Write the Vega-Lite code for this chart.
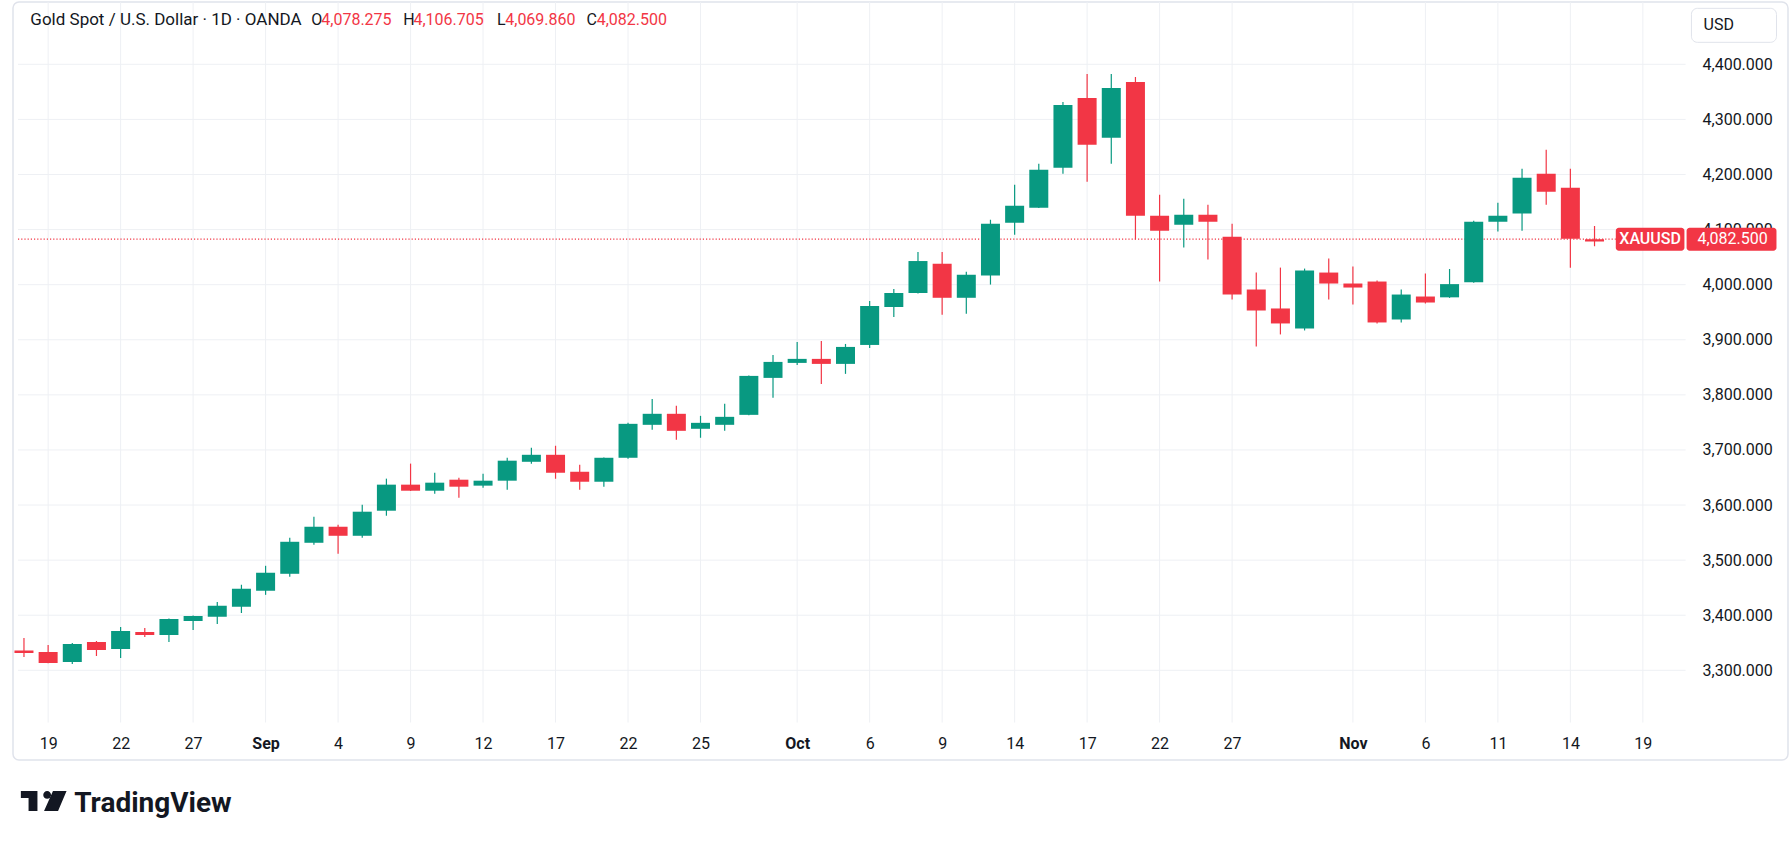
{
  "$schema": "https://vega.github.io/schema/vega-lite/v6.json",
  "width": 1775,
  "height": 758,
  "autosize": {"type": "none"},
  "padding": {"left": 13, "top": 2, "right": 3, "bottom": 83},
  "background": "white",
  "config": {
    "view": {"stroke": "#e0e3eb", "strokeWidth": 1.5, "cornerRadius": 6},
    "text": {"font": "Roboto", "color": "#131722"},
    "axis": {"labelFont": "Roboto"}
  },
  "datasets": {
    "bars": [
      {"i":0,"date":"2025-08-18","o":3335.8,"h":3358.8,"l":3324.2,"c":3331.5},
      {"i":1,"date":"2025-08-19","o":3333.3,"h":3346.0,"l":3312.8,"c":3313.3},
      {"i":2,"date":"2025-08-20","o":3315.2,"h":3349.7,"l":3311.5,"c":3347.9},
      {"i":3,"date":"2025-08-21","o":3351.5,"h":3353.3,"l":3326.0,"c":3337.0},
      {"i":4,"date":"2025-08-22","o":3338.8,"h":3378.8,"l":3322.4,"c":3371.5},
      {"i":5,"date":"2025-08-25","o":3369.7,"h":3377.0,"l":3360.6,"c":3364.2},
      {"i":6,"date":"2025-08-26","o":3364.2,"h":3394.0,"l":3351.5,"c":3393.3},
      {"i":7,"date":"2025-08-27","o":3389.7,"h":3399.5,"l":3373.3,"c":3398.8},
      {"i":8,"date":"2025-08-28","o":3397.0,"h":3424.2,"l":3384.2,"c":3417.0},
      {"i":9,"date":"2025-08-29","o":3415.2,"h":3455.2,"l":3404.2,"c":3447.9},
      {"i":10,"date":"2025-09-01","o":3444.2,"h":3489.7,"l":3437.0,"c":3477.0},
      {"i":11,"date":"2025-09-02","o":3475.2,"h":3540.6,"l":3469.7,"c":3533.3},
      {"i":12,"date":"2025-09-03","o":3531.5,"h":3578.8,"l":3527.9,"c":3560.6},
      {"i":13,"date":"2025-09-04","o":3560.6,"h":3564.2,"l":3511.5,"c":3544.2},
      {"i":14,"date":"2025-09-05","o":3544.2,"h":3600.6,"l":3540.6,"c":3587.9},
      {"i":15,"date":"2025-09-08","o":3589.7,"h":3647.9,"l":3580.6,"c":3637.0},
      {"i":16,"date":"2025-09-09","o":3637.0,"h":3675.2,"l":3625.5,"c":3626.0},
      {"i":17,"date":"2025-09-10","o":3626.0,"h":3658.8,"l":3620.6,"c":3640.6},
      {"i":18,"date":"2025-09-11","o":3646.0,"h":3649.7,"l":3613.3,"c":3633.3},
      {"i":19,"date":"2025-09-12","o":3635.2,"h":3657.0,"l":3631.5,"c":3644.2},
      {"i":20,"date":"2025-09-15","o":3644.2,"h":3686.0,"l":3627.9,"c":3680.5},
      {"i":21,"date":"2025-09-16","o":3678.5,"h":3703.9,"l":3674.9,"c":3691.2},
      {"i":22,"date":"2025-09-17","o":3691.2,"h":3707.6,"l":3647.7,"c":3658.6},
      {"i":23,"date":"2025-09-18","o":3660.4,"h":3673.1,"l":3627.8,"c":3642.3},
      {"i":24,"date":"2025-09-19","o":3642.3,"h":3686.3,"l":3633.2,"c":3685.8},
      {"i":25,"date":"2025-09-22","o":3685.8,"h":3749.2,"l":3684.0,"c":3747.4},
      {"i":26,"date":"2025-09-23","o":3745.6,"h":3792.7,"l":3736.6,"c":3765.6},
      {"i":27,"date":"2025-09-24","o":3765.6,"h":3780.1,"l":3718.4,"c":3734.7},
      {"i":28,"date":"2025-09-25","o":3738.4,"h":3761.9,"l":3722.1,"c":3749.2},
      {"i":29,"date":"2025-09-26","o":3745.6,"h":3783.7,"l":3734.7,"c":3760.1},
      {"i":30,"date":"2025-09-29","o":3763.7,"h":3835.0,"l":3763.0,"c":3834.4},
      {"i":31,"date":"2025-09-30","o":3830.8,"h":3872.5,"l":3794.6,"c":3859.8},
      {"i":32,"date":"2025-10-01","o":3858.0,"h":3896.1,"l":3854.4,"c":3865.3},
      {"i":33,"date":"2025-10-02","o":3865.3,"h":3897.9,"l":3819.9,"c":3856.2},
      {"i":34,"date":"2025-10-03","o":3856.2,"h":3892.4,"l":3838.1,"c":3887.0},
      {"i":35,"date":"2025-10-06","o":3890.6,"h":3970.4,"l":3885.2,"c":3961.3},
      {"i":36,"date":"2025-10-07","o":3959.5,"h":3992.1,"l":3941.4,"c":3984.9},
      {"i":37,"date":"2025-10-08","o":3984.9,"h":4059.2,"l":3984.0,"c":4042.9},
      {"i":38,"date":"2025-10-09","o":4038.0,"h":4059.5,"l":3945.5,"c":3976.2},
      {"i":39,"date":"2025-10-10","o":3976.2,"h":4023.5,"l":3947.2,"c":4018.0},
      {"i":40,"date":"2025-10-13","o":4016.5,"h":4118.0,"l":4000.2,"c":4110.7},
      {"i":41,"date":"2025-10-14","o":4112.6,"h":4181.4,"l":4090.8,"c":4143.4},
      {"i":42,"date":"2025-10-15","o":4139.7,"h":4219.4,"l":4139.0,"c":4208.6},
      {"i":43,"date":"2025-10-16","o":4212.2,"h":4331.8,"l":4201.3,"c":4326.3},
      {"i":44,"date":"2025-10-17","o":4339.0,"h":4382.5,"l":4186.8,"c":4253.9},
      {"i":45,"date":"2025-10-20","o":4266.5,"h":4382.5,"l":4219.4,"c":4357.1},
      {"i":46,"date":"2025-10-21","o":4368.0,"h":4377.0,"l":4081.8,"c":4125.2},
      {"i":47,"date":"2025-10-22","o":4125.2,"h":4163.3,"l":4005.7,"c":4098.1},
      {"i":48,"date":"2025-10-23","o":4108.9,"h":4156.0,"l":4067.3,"c":4127.1},
      {"i":49,"date":"2025-10-24","o":4127.1,"h":4145.2,"l":4045.5,"c":4114.4},
      {"i":50,"date":"2025-10-27","o":4087.2,"h":4110.7,"l":3973.1,"c":3982.1},
      {"i":51,"date":"2025-10-28","o":3991.2,"h":4022.0,"l":3887.9,"c":3953.1},
      {"i":52,"date":"2025-10-29","o":3956.8,"h":4031.0,"l":3909.7,"c":3929.6},
      {"i":53,"date":"2025-10-30","o":3920.5,"h":4029.2,"l":3916.9,"c":4025.6},
      {"i":54,"date":"2025-10-31","o":4022.0,"h":4047.3,"l":3973.1,"c":4002.1},
      {"i":55,"date":"2025-11-03","o":4002.1,"h":4032.9,"l":3964.0,"c":3994.8},
      {"i":56,"date":"2025-11-04","o":4005.7,"h":4007.5,"l":3929.6,"c":3931.4},
      {"i":57,"date":"2025-11-05","o":3936.8,"h":3991.2,"l":3931.4,"c":3982.1},
      {"i":58,"date":"2025-11-06","o":3978.5,"h":4020.2,"l":3965.8,"c":3967.6},
      {"i":59,"date":"2025-11-07","o":3977.0,"h":4028.5,"l":3976.0,"c":4001.0},
      {"i":60,"date":"2025-11-10","o":4004.2,"h":4116.0,"l":4003.5,"c":4114.2},
      {"i":61,"date":"2025-11-11","o":4114.2,"h":4148.6,"l":4096.7,"c":4125.1},
      {"i":62,"date":"2025-11-12","o":4129.3,"h":4210.3,"l":4097.9,"c":4194.0},
      {"i":63,"date":"2025-11-13","o":4201.2,"h":4244.7,"l":4145.0,"c":4168.6},
      {"i":64,"date":"2025-11-14","o":4175.8,"h":4210.3,"l":4030.8,"c":4083.4},
      {"i":65,"date":"2025-11-17","o":4078.275,"h":4106.705,"l":4069.86,"c":4082.5}
    ],
    "levels": [
      {"p":3300},{"p":3400},{"p":3500},{"p":3600},{"p":3700},{"p":3800},
      {"p":3900},{"p":4000},{"p":4100},{"p":4200},{"p":4300},{"p":4400}
    ],
    "ticks": [
      {"i":1},{"i":4},{"i":7},{"i":10},{"i":13},{"i":16},{"i":19},{"i":22},{"i":25},{"i":28},{"i":32},
      {"i":35},{"i":38},{"i":41},{"i":44},{"i":47},{"i":50},{"i":55},{"i":58},{"i":61},{"i":64},{"i":67}
    ],
    "quote": [
      {"symbol":"XAUUSD","last":4082.5,"currency":"USD","name":"Gold Spot / U.S. Dollar · 1D · OANDA","brand":"TradingView"}
    ]
  },
  "layer": [
    {
      "data": {"name": "bars"},
      "mark": {"type": "rule", "strokeWidth": 0, "opacity": 0},
      "encoding": {
        "x": {
          "field": "i",
          "type": "quantitative",
          "scale": {"domain": [-0.247, 72.8], "nice": false, "zero": false},
          "axis": {
            "orient": "bottom",
            "zindex": 1,
            "values": [1,4,7,10,13,16,19,22,25,28,32,35,38,41,44,47,50,55,58,61,64,67],
            "labelExpr": "['','19','','','22','','','27','','','Sep','','','4','','','9','','','12','','','17','','','22','','','25','','','','Oct','','','6','','','9','','','14','','','17','','','22','','','27','','','','','Nov','','','6','','','11','','','14','','','19'][datum.value]",
            "labelFontWeight": {"condition": {"test": "datum.value == 10 || datum.value == 32 || datum.value == 55", "value": "bold"}, "value": "normal"},
            "labelFontSize": 16,
            "labelColor": "#131722",
            "labelPadding": -25,
            "labelOverlap": false,
            "labelFlush": false,
            "domain": false,
            "ticks": false,
            "grid": false,
            "title": null
          }
        },
        "y": {
          "field": "l",
          "type": "quantitative",
          "scale": {"domain": [3137.2, 4513.1], "nice": false, "zero": false},
          "axis": {
            "orient": "right",
            "zindex": 0,
            "values": [3300,3400,3500,3600,3700,3800,3900,4000,4100,4200,4300,4400],
            "format": ",.3f",
            "labelFontSize": 16,
            "labelColor": "#131722",
            "labelPadding": -86,
            "labelOverlap": false,
            "labelFlush": false,
            "domain": false,
            "ticks": false,
            "grid": false,
            "title": null
          }
        },
        "y2": {"field": "h"}
      }
    },
    {
      "data": {"name": "levels"},
      "mark": {"type": "rule", "color": "#eef0f4", "strokeWidth": 1},
      "encoding": {
        "x": {"datum": -0.247, "type": "quantitative"},
        "x2": {"datum": 68.77},
        "y": {"field": "p", "type": "quantitative"}
      }
    },
    {
      "data": {"name": "ticks"},
      "mark": {"type": "rule", "color": "#eef0f4", "strokeWidth": 1},
      "encoding": {
        "x": {"field": "i", "type": "quantitative"},
        "y": {"datum": 3205.2, "type": "quantitative"},
        "y2": {"datum": 4513.1}
      }
    },
    {
      "data": {"name": "quote"},
      "mark": {"type": "rule", "color": "#F23645", "strokeWidth": 1.2, "strokeDash": [1.2, 2]},
      "encoding": {
        "x": {"datum": -0.247, "type": "quantitative"},
        "x2": {"datum": 65.88},
        "y": {"field": "last", "type": "quantitative"}
      }
    },
    {
      "data": {"name": "bars"},
      "transform": [
        {"window": [{"op": "lag", "field": "c", "as": "prev"}], "sort": [{"field": "i", "order": "ascending"}]}
      ],
      "mark": {"type": "rule", "strokeWidth": 1.2, "clip": true},
      "encoding": {
        "x": {"field": "i", "type": "quantitative"},
        "y": {"field": "l", "type": "quantitative"},
        "y2": {"field": "h"},
        "color": {
          "condition": {"test": "datum.prev == null ? datum.c < datum.o : datum.c < datum.prev", "value": "#F23645"},
          "value": "#089981"
        }
      }
    },
    {
      "data": {"name": "bars"},
      "transform": [
        {"window": [{"op": "lag", "field": "c", "as": "prev"}], "sort": [{"field": "i", "order": "ascending"}]}
      ],
      "mark": {"type": "bar", "width": 19, "clip": true},
      "encoding": {
        "x": {"field": "i", "type": "quantitative"},
        "y": {"field": "o", "type": "quantitative"},
        "y2": {"field": "c"},
        "color": {
          "condition": {"test": "datum.prev == null ? datum.c < datum.o : datum.c < datum.prev", "value": "#F23645"},
          "value": "#089981"
        },
        "tooltip": [
          {"field": "date", "title": "Date"},
          {"field": "o", "title": "Open", "format": ",.3f"},
          {"field": "h", "title": "High", "format": ",.3f"},
          {"field": "l", "title": "Low", "format": ",.3f"},
          {"field": "c", "title": "Close", "format": ",.3f"}
        ]
      }
    },
    {
      "data": {"name": "quote"},
      "mark": {"type": "rect", "color": "#F23645", "cornerRadius": 3},
      "encoding": {
        "x": {"datum": 65.88, "type": "quantitative"},
        "x2": {"datum": 68.72},
        "y": {"datum": 4061.8, "type": "quantitative"},
        "y2": {"datum": 4103.2}
      }
    },
    {
      "data": {"name": "quote"},
      "mark": {"type": "rect", "color": "#F23645", "cornerRadius": 3},
      "encoding": {
        "x": {"datum": 68.81, "type": "quantitative"},
        "x2": {"datum": 72.53},
        "y": {"datum": 4061.8, "type": "quantitative"},
        "y2": {"datum": 4103.2}
      }
    },
    {
      "data": {"name": "quote"},
      "mark": {"type": "text", "color": "white", "fontSize": 16, "fontWeight": 500, "align": "center", "baseline": "middle"},
      "encoding": {
        "x": {"datum": 67.3, "type": "quantitative"},
        "y": {"field": "last", "type": "quantitative"},
        "text": {"field": "symbol"}
      }
    },
    {
      "data": {"name": "quote"},
      "mark": {"type": "text", "color": "white", "fontSize": 16, "align": "left", "baseline": "middle"},
      "encoding": {
        "x": {"datum": 69.26, "type": "quantitative"},
        "y": {"field": "last", "type": "quantitative"},
        "text": {"field": "last", "format": ",.3f"}
      }
    },
    {
      "data": {"name": "quote"},
      "mark": {"type": "rect", "fill": "white", "stroke": "#e0e3eb", "strokeWidth": 1, "cornerRadius": 6},
      "encoding": {
        "x": {"datum": 69.01, "type": "quantitative"},
        "x2": {"datum": 72.53},
        "y": {"datum": 4439.9, "type": "quantitative"},
        "y2": {"datum": 4501.6}
      }
    },
    {
      "data": {"name": "quote"},
      "mark": {"type": "text", "fontSize": 16, "align": "left", "baseline": "middle"},
      "encoding": {
        "x": {"datum": 69.51, "type": "quantitative"},
        "y": {"datum": 4470.8, "type": "quantitative"},
        "text": {"field": "currency"}
      }
    },
    {
      "data": {"name": "quote"},
      "mark": {"type": "text", "fontSize": 17, "align": "left", "baseline": "middle"},
      "encoding": {
        "x": {"datum": 0.263, "type": "quantitative"},
        "y": {"datum": 4480.4, "type": "quantitative"},
        "text": {"field": "name"}
      }
    },
    {
      "data": {"name": "quote"},
      "mark": {"type": "text", "text": "O", "fontSize": 16, "align": "left", "baseline": "middle"},
      "encoding": {
        "x": {"datum": 11.893, "type": "quantitative"},
        "y": {"datum": 4480.4, "type": "quantitative"}
      }
    },
    {
      "data": {"name": "quote"},
      "mark": {"type": "text", "text": "H", "fontSize": 16, "align": "left", "baseline": "middle"},
      "encoding": {
        "x": {"datum": 15.695, "type": "quantitative"},
        "y": {"datum": 4480.4, "type": "quantitative"}
      }
    },
    {
      "data": {"name": "quote"},
      "mark": {"type": "text", "text": "L", "fontSize": 16, "align": "left", "baseline": "middle"},
      "encoding": {
        "x": {"datum": 19.572, "type": "quantitative"},
        "y": {"datum": 4480.4, "type": "quantitative"}
      }
    },
    {
      "data": {"name": "quote"},
      "mark": {"type": "text", "text": "C", "fontSize": 16, "align": "left", "baseline": "middle"},
      "encoding": {
        "x": {"datum": 23.284, "type": "quantitative"},
        "y": {"datum": 4480.4, "type": "quantitative"}
      }
    },
    {
      "data": {"name": "bars"},
      "transform": [{"filter": "datum.i == 65"}],
      "mark": {"type": "text", "color": "#F23645", "fontSize": 16, "align": "left", "baseline": "middle"},
      "encoding": {
        "x": {"datum": 12.305, "type": "quantitative"},
        "y": {"datum": 4480.4, "type": "quantitative"},
        "text": {"field": "o", "format": ",.3f"}
      }
    },
    {
      "data": {"name": "bars"},
      "transform": [{"filter": "datum.i == 65"}],
      "mark": {"type": "text", "color": "#F23645", "fontSize": 16, "align": "left", "baseline": "middle"},
      "encoding": {
        "x": {"datum": 16.12, "type": "quantitative"},
        "y": {"datum": 4480.4, "type": "quantitative"},
        "text": {"field": "h", "format": ",.3f"}
      }
    },
    {
      "data": {"name": "bars"},
      "transform": [{"filter": "datum.i == 65"}],
      "mark": {"type": "text", "color": "#F23645", "fontSize": 16, "align": "left", "baseline": "middle"},
      "encoding": {
        "x": {"datum": 19.918, "type": "quantitative"},
        "y": {"datum": 4480.4, "type": "quantitative"},
        "text": {"field": "l", "format": ",.3f"}
      }
    },
    {
      "data": {"name": "bars"},
      "transform": [{"filter": "datum.i == 65"}],
      "mark": {"type": "text", "color": "#F23645", "fontSize": 16, "align": "left", "baseline": "middle"},
      "encoding": {
        "x": {"datum": 23.704, "type": "quantitative"},
        "y": {"datum": 4480.4, "type": "quantitative"},
        "text": {"field": "c", "format": ",.3f"}
      }
    },
    {
      "data": {"name": "quote"},
      "mark": {
        "type": "point",
        "filled": true,
        "opacity": 1,
        "color": "#131722",
        "size": 2088,
        "shape": "M-1,-0.438L-0.274,-0.438L-0.274,0.438L-0.663,0.438L-0.663,-0.131L-1,-0.131Z M-0.02,-0.267A0.171,0.171,0,1,0,0.322,-0.267A0.171,0.171,0,1,0,-0.02,-0.267Z M0.405,-0.438L1,-0.438L0.628,0.438L0.015,0.438Z"
      },
      "encoding": {
        "x": {"datum": 0.817, "type": "quantitative"},
        "y": {"datum": 3062.7, "type": "quantitative"}
      }
    },
    {
      "data": {"name": "quote"},
      "mark": {"type": "text", "fontSize": 28, "fontWeight": 700, "align": "left", "baseline": "alphabetic"},
      "encoding": {
        "x": {"datum": 2.078, "type": "quantitative"},
        "y": {"datum": 3043.7, "type": "quantitative"},
        "text": {"field": "brand"}
      }
    }
  ]
}
